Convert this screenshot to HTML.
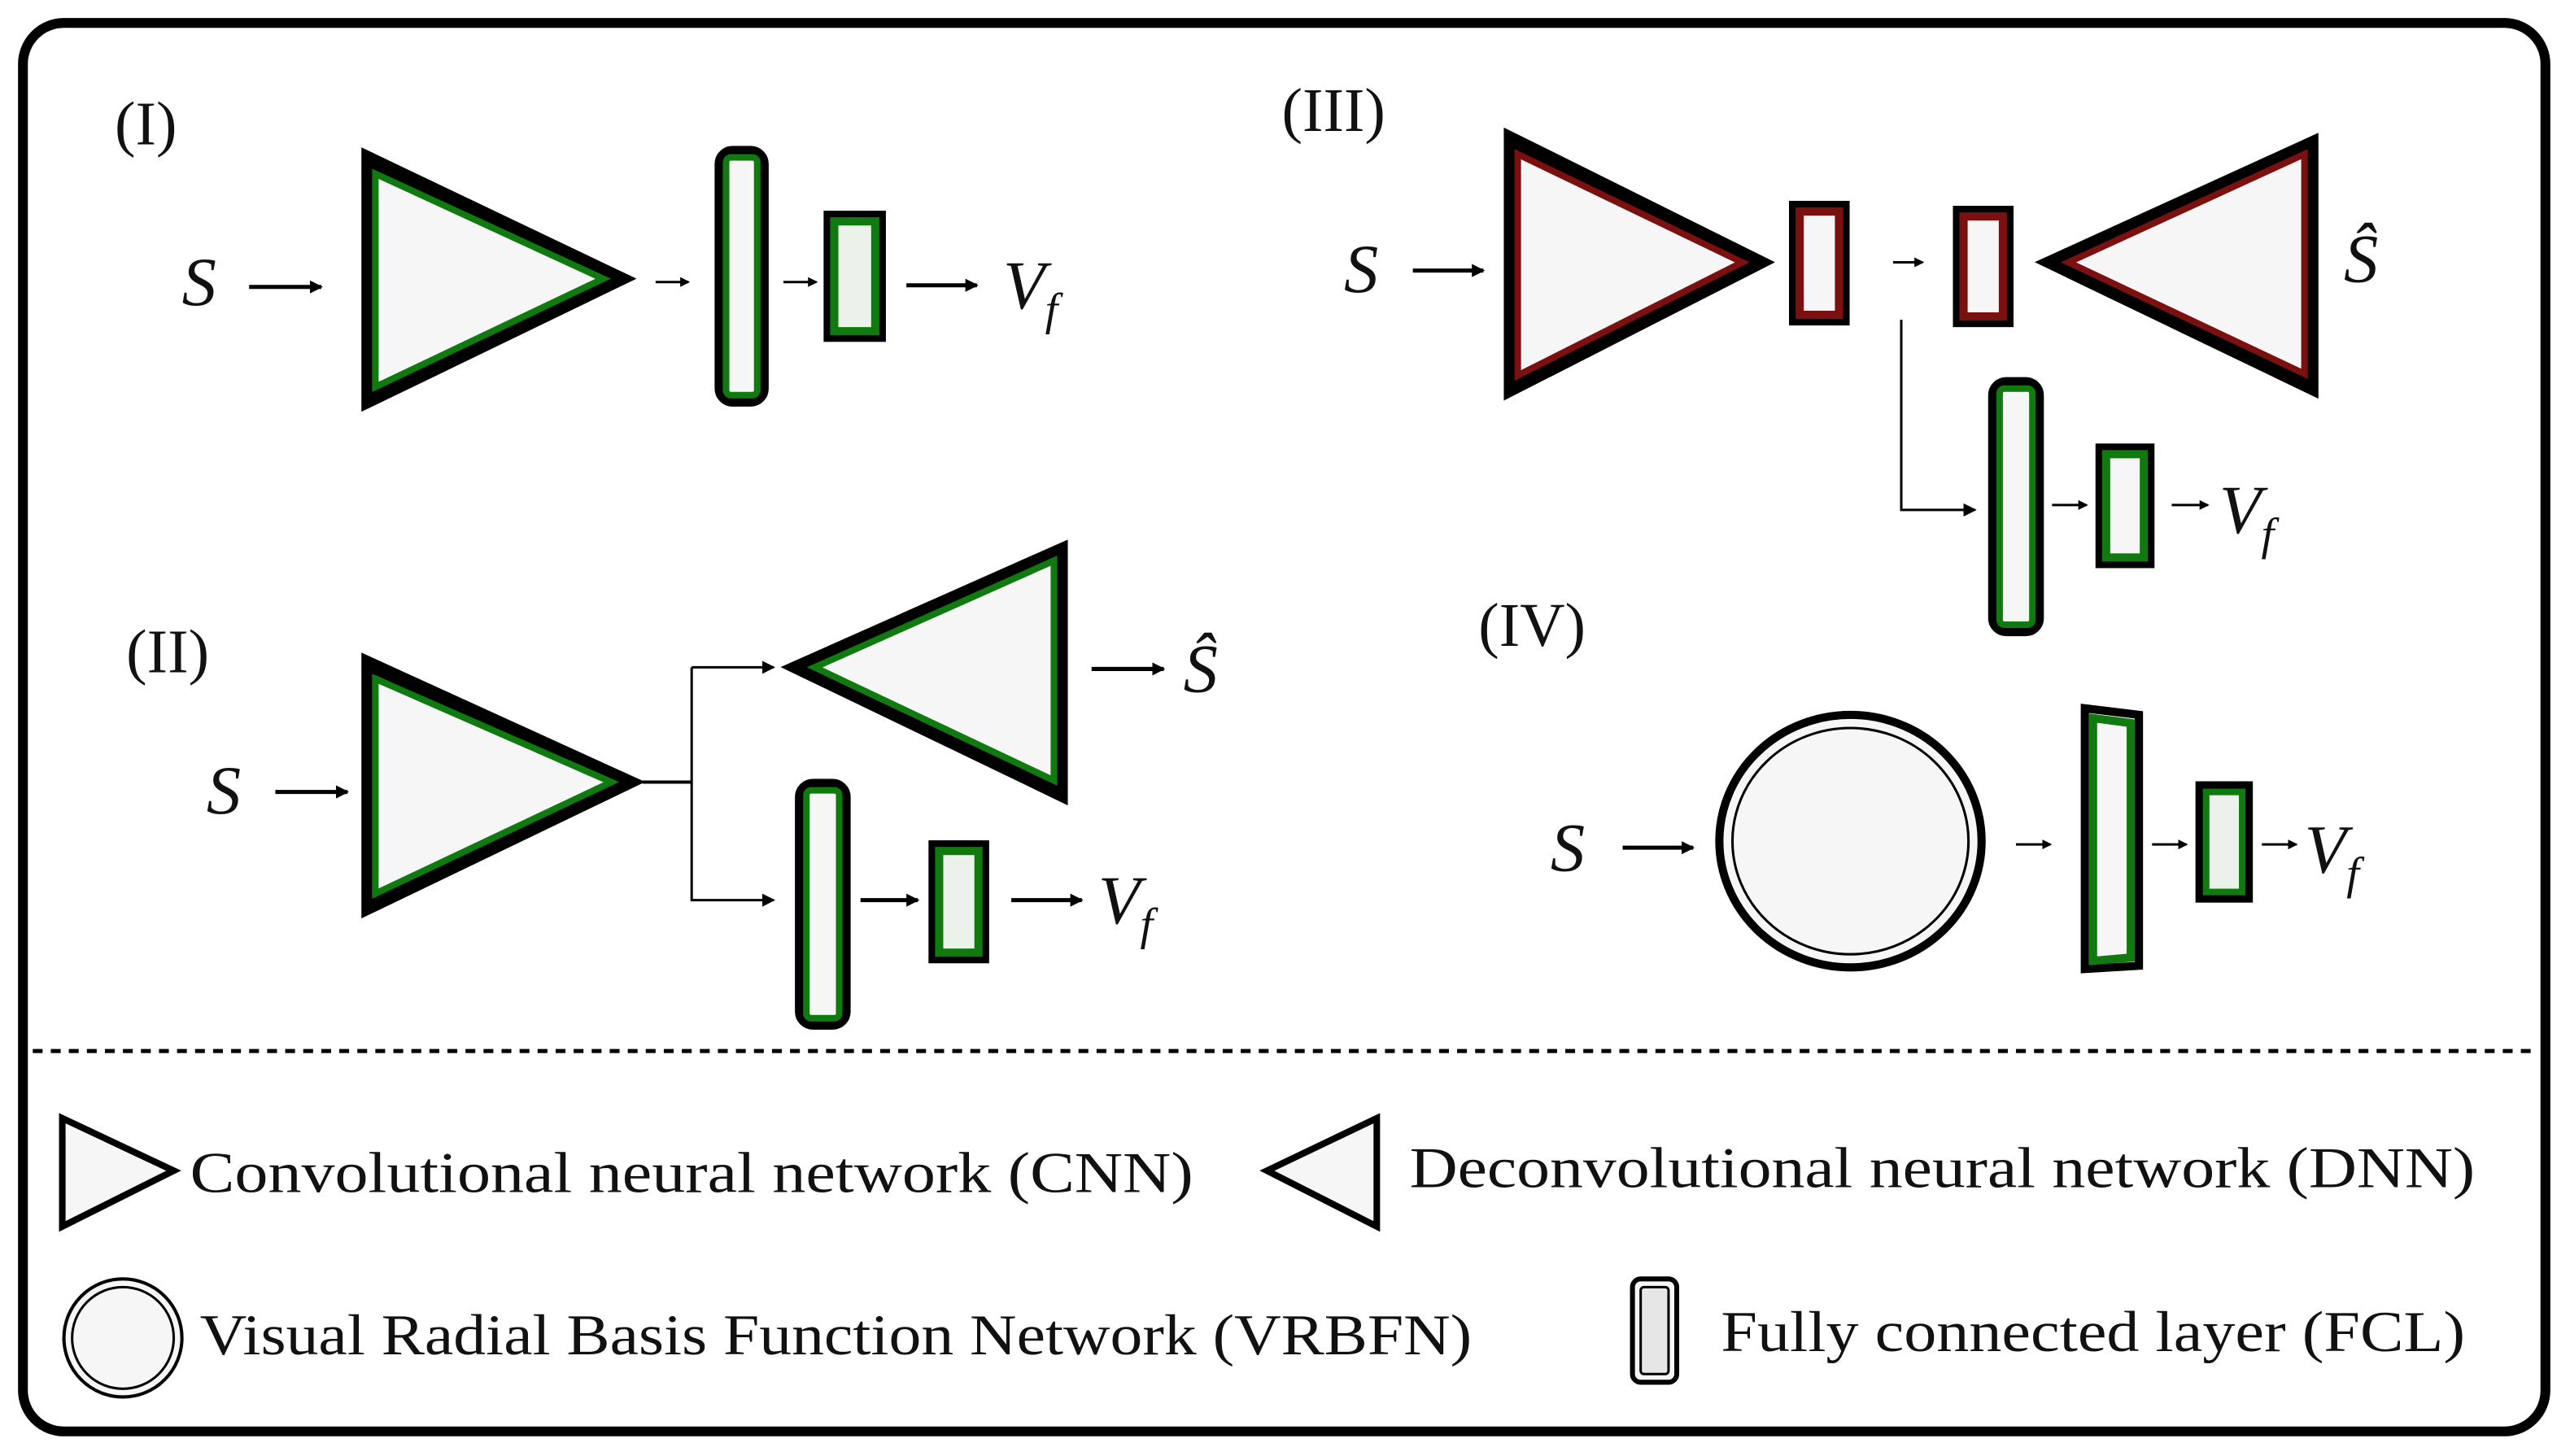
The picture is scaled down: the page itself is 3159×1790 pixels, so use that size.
<!DOCTYPE html>
<html><head><meta charset="utf-8"><style>html,body{margin:0;padding:0;background:#fff}svg{display:block}</style></head><body>
<svg width="3159" height="1790" viewBox="0 0 1568 888" preserveAspectRatio="none" xmlns="http://www.w3.org/2000/svg" font-family="Liberation Serif, serif">
<defs>
<marker id="ah" markerWidth="8" markerHeight="8" refX="7" refY="4" orient="auto" markerUnits="userSpaceOnUse"><path d="M0,0 L8,4 L0,8 Z" fill="#000"/></marker>
<marker id="as" markerWidth="6" markerHeight="6" refX="5" refY="3" orient="auto" markerUnits="userSpaceOnUse"><path d="M0,0 L6,3 L0,6 Z" fill="#000"/></marker>
</defs>
<rect x="0" y="0" width="1568" height="888" fill="#fff"/>
<rect x="14" y="14" width="1539" height="859" rx="25" fill="#fff" stroke="#000" stroke-width="6"/>
<line x1="20" y1="641" x2="1548" y2="641" stroke="#000" stroke-width="2.5" stroke-dasharray="6,5"/>

<g stroke-linejoin="miter" stroke-miterlimit="3" fill="#f6f6f6">
<!-- Panel I -->
<polygon points="225,97 225,244 378,170" stroke="#000" stroke-width="9"/>
<polygon points="229,106 229,236 368,170" fill="none" stroke="#107a10" stroke-width="4"/>
<rect x="439" y="92" width="27" height="153" rx="8" stroke="#000" stroke-width="6"/>
<rect x="443" y="96" width="19" height="145" rx="3" fill="none" stroke="#107a10" stroke-width="4"/>
<rect x="505" y="131" width="33" height="75" stroke="#000" stroke-width="5"/>
<rect x="509" y="135" width="25" height="67" fill="#eaf2ea" stroke="#107a10" stroke-width="5"/>

<!-- Panel II -->
<polygon points="225,405 225,553 383,477" stroke="#000" stroke-width="9"/>
<polygon points="229,414 229,545 373,477" fill="none" stroke="#107a10" stroke-width="4"/>
<polygon points="487,407 647,336 647,484" stroke="#000" stroke-width="9"/>
<polygon points="497,407 643,342 643,476" fill="none" stroke="#107a10" stroke-width="4"/>
<rect x="488" y="478" width="28" height="147" rx="8" stroke="#000" stroke-width="6"/>
<rect x="492" y="482" width="20" height="139" rx="3" fill="none" stroke="#107a10" stroke-width="4"/>
<rect x="569" y="515" width="32" height="70" stroke="#000" stroke-width="5"/>
<rect x="573" y="519" width="24" height="62" fill="#eaf2ea" stroke="#107a10" stroke-width="5"/>

<!-- Panel III -->
<polygon points="922,85 922,237 1073,160" stroke="#000" stroke-width="9"/>
<polygon points="926,94 926,229 1063,160" fill="none" stroke="#7a1010" stroke-width="4"/>
<rect x="1094" y="125" width="32" height="71" stroke="#000" stroke-width="5"/>
<rect x="1098" y="129" width="24" height="63" stroke="#7a1010" stroke-width="5"/>
<rect x="1194" y="128" width="32" height="69" stroke="#000" stroke-width="5"/>
<rect x="1198" y="132" width="24" height="61" stroke="#7a1010" stroke-width="5"/>
<polygon points="1252,160 1410,88 1410,236" stroke="#000" stroke-width="9"/>
<polygon points="1262,160 1406,94 1406,228" fill="none" stroke="#7a1010" stroke-width="4"/>
<rect x="1216" y="233" width="28" height="152" rx="8" stroke="#000" stroke-width="6"/>
<rect x="1220" y="237" width="20" height="144" rx="3" fill="none" stroke="#107a10" stroke-width="4"/>
<rect x="1281" y="273" width="31" height="71" stroke="#000" stroke-width="5"/>
<rect x="1285" y="277" width="23" height="63" stroke="#107a10" stroke-width="5"/>

<!-- Panel IV -->
<ellipse cx="1129" cy="513" rx="80" ry="77" stroke="#000" stroke-width="5"/>
<ellipse cx="1129" cy="513" rx="72" ry="69" fill="none" stroke="#000" stroke-width="1.5"/>
<polygon points="1272,432 1305,436 1305,589 1272,591" stroke="#000" stroke-width="5"/>
<polygon points="1277,438 1300,441 1300,584 1277,586" fill="#f6f6f6" stroke="#107a10" stroke-width="5"/>
<rect x="1342" y="479" width="30" height="69" stroke="#000" stroke-width="5"/>
<rect x="1346" y="483" width="22" height="61" fill="#eaf2ea" stroke="#107a10" stroke-width="4"/>

<!-- Legend -->
<polygon points="38,682 38,748 106,714" stroke="#000" stroke-width="4"/>
<polygon points="773,714 840,682 840,748" stroke="#000" stroke-width="4"/>
<circle cx="75" cy="816" r="36" stroke="#000" stroke-width="2"/>
<circle cx="75" cy="816" r="31" fill="none" stroke="#000" stroke-width="1.5"/>
<rect x="996" y="780" width="27" height="63" rx="5" stroke="#000" stroke-width="3"/>
<rect x="1001" y="785" width="17" height="53" rx="2" fill="#e6e6e6" stroke="#000" stroke-width="1.5"/>
</g>

<g stroke="#000" fill="none">
<line x1="152" y1="175" x2="196" y2="175" stroke-width="2.5" marker-end="url(#ah)"/>
<line x1="400" y1="172" x2="420" y2="172" stroke-width="1.5" marker-end="url(#as)"/>
<line x1="478" y1="172" x2="498" y2="172" stroke-width="1.5" marker-end="url(#as)"/>
<line x1="553" y1="174" x2="596" y2="174" stroke-width="2.5" marker-end="url(#ah)"/>

<line x1="168" y1="483" x2="212" y2="483" stroke-width="2.5" marker-end="url(#ah)"/>
<polyline points="392,477 422,477" stroke-width="2"/>
<polyline points="422,407 422,549 472,549" stroke-width="1.5" marker-end="url(#ah)"/>
<line x1="422" y1="407" x2="472" y2="407" stroke-width="1.5" marker-end="url(#ah)"/>
<line x1="666" y1="408" x2="710" y2="408" stroke-width="2.5" marker-end="url(#ah)"/>
<line x1="525" y1="549" x2="560" y2="549" stroke-width="2.5" marker-end="url(#ah)"/>
<line x1="617" y1="549" x2="660" y2="549" stroke-width="2.5" marker-end="url(#ah)"/>

<line x1="862" y1="165" x2="905" y2="165" stroke-width="2.5" marker-end="url(#ah)"/>
<line x1="1155" y1="160" x2="1173" y2="160" stroke-width="1.5" marker-end="url(#as)"/>
<polyline points="1160,195 1160,311 1205,311" stroke-width="1.5" marker-end="url(#ah)"/>
<line x1="1252" y1="308" x2="1273" y2="308" stroke-width="1.5" marker-end="url(#as)"/>
<line x1="1325" y1="308" x2="1347" y2="308" stroke-width="1.5" marker-end="url(#as)"/>

<line x1="990" y1="517" x2="1033" y2="517" stroke-width="2.5" marker-end="url(#ah)"/>
<line x1="1230" y1="515" x2="1251" y2="515" stroke-width="1.5" marker-end="url(#as)"/>
<line x1="1313" y1="515" x2="1334" y2="515" stroke-width="1.5" marker-end="url(#as)"/>
<line x1="1380" y1="515" x2="1401" y2="515" stroke-width="1.5" marker-end="url(#as)"/>
</g>

<g fill="#111" font-size="38">
<text x="70" y="88">(I)</text>
<text x="77" y="410">(II)</text>
<text x="782" y="80">(III)</text>
<text x="902" y="394">(IV)</text>
</g>
<g fill="#111" font-size="42" font-style="italic">
<text x="111" y="186">S</text>
<text x="612" y="188">V<tspan font-size="28" dy="10">f</tspan></text>
<text x="126" y="496">S</text>
<text x="722" y="422">Ŝ</text>
<text x="670" y="563">V<tspan font-size="28" dy="10">f</tspan></text>
<text x="820" y="178">S</text>
<text x="1430" y="172">Ŝ</text>
<text x="1354" y="325">V<tspan font-size="28" dy="10">f</tspan></text>
<text x="946" y="531">S</text>
<text x="1406" y="532">V<tspan font-size="28" dy="10">f</tspan></text>
</g>
<g fill="#111" font-size="35">
<text x="116" y="727" textLength="612" lengthAdjust="spacingAndGlyphs">Convolutional neural network (CNN)</text>
<text x="860" y="724" textLength="650" lengthAdjust="spacingAndGlyphs">Deconvolutional neural network (DNN)</text>
<text x="122" y="826" textLength="776" lengthAdjust="spacingAndGlyphs">Visual Radial Basis Function Network (VRBFN)</text>
<text x="1050" y="824" textLength="454" lengthAdjust="spacingAndGlyphs">Fully connected layer (FCL)</text>
</g>
</svg>
</body></html>
